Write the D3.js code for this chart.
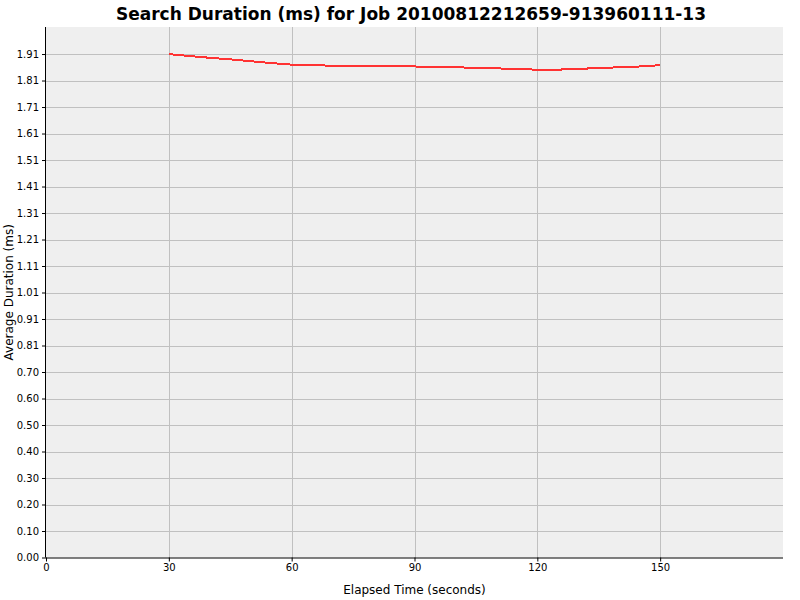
<!DOCTYPE html>
<html>
<head>
<meta charset="utf-8">
<script src="https://cdn.jsdelivr.net/npm/d3@7"></script>
<style>
  body { margin: 0; background: #fff; }
  text { font-family: 'DejaVu Sans', sans-serif; }
</style>
</head>
<body>
<svg id="chart" width="800" height="600"></svg>
<script>
// elapsed time (s) and average search duration (ms)
const elapsed = [30, 35, 40, 45, 50, 55, 60, 65, 70, 75, 80, 85, 90, 95, 100, 105, 110, 115, 120, 125, 130, 135, 140, 145, 150]
const duration = [1.912, 1.905, 1.898, 1.892, 1.885, 1.878, 1.872, 1.870, 1.868, 1.868, 1.867, 1.866, 1.865, 1.864, 1.862, 1.860, 1.858, 1.855, 1.853, 1.853, 1.856, 1.859, 1.862, 1.865, 1.870]
const xTicks = [0, 30, 60, 90, 120, 150]
const yStep = 0.10065
const yTicks = d3.range(20).map(i => i * yStep)

const title = 'Search Duration (ms) for Job 20100812212659-913960111-13'

const svg = d3.select('#chart')
const m = { left: 46, top: 27, right: 783, bottom: 557.5 }

const x = d3.scaleLinear()
  .domain([0, 180])
  .range([m.left, m.right])
const y = d3.scaleLinear()
  .domain([0, 2.015])
  .range([m.bottom, m.top])

//* * plot background
svg.append('rect')
  .attr('x', m.left)
  .attr('y', m.top)
  .attr('width', m.right - m.left)
  .attr('height', m.bottom - m.top)
  .attr('fill', '#efefef')

//* * grid lines
svg.append('g')
  .selectAll('line')
  .data(yTicks.slice(1))
  .enter().append('line')
  .attr('x1', m.left)
  .attr('x2', m.right)
  .attr('y1', d => Math.round(y(d)) + 0.5)
  .attr('y2', d => Math.round(y(d)) + 0.5)
  .attr('stroke', '#c0c0c0')

svg.append('g')
  .selectAll('line')
  .data(xTicks.slice(1))
  .enter().append('line')
  .attr('x1', d => Math.round(x(d)) + 0.5)
  .attr('x2', d => Math.round(x(d)) + 0.5)
  .attr('y1', m.top)
  .attr('y2', m.bottom)
  .attr('stroke', '#c0c0c0')

//* * axes
const xAxis = d3.axisBottom(x)
  .tickValues(xTicks)
  .tickSize(4)
  .tickPadding(2)
  .tickFormat(d3.format('d'))
svg.append('g')
  .attr('transform', `translate(0,${m.bottom})`)
  .call(xAxis)
  .call(g => g.select('.domain').attr('d', `M${m.left},0.5H${m.right}`).attr('stroke', '#000'))
  .call(g => g.selectAll('text').attr('font-size', 10).attr('fill', '#000').attr('font-family', 'DejaVu Sans'))

const yAxis = d3.axisLeft(y)
  .tickValues(yTicks)
  .tickSize(4)
  .tickPadding(3)
  .tickFormat(d3.format('.2f'))
svg.append('g')
  .attr('transform', `translate(${m.left},0)`)
  .call(yAxis)
  .call(g => g.select('.domain').attr('d', `M-0.5,${m.top}V${m.bottom}`).attr('stroke', '#000'))
  .call(g => g.selectAll('text').attr('font-size', 10).attr('fill', '#000').attr('font-family', 'DejaVu Sans'))

//* * series line
const line = d3.line()
  .x((d, i) => x(elapsed[i]))
  .y(d => y(d))
svg.append('path')
  .datum(duration)
  .attr('d', line)
  .attr('fill', 'none')
  .attr('stroke', '#ff3333')
  .attr('stroke-width', 2)
  .attr('shape-rendering', 'crispEdges')

//* * titles
svg.append('text')
  .attr('x', 411)
  .attr('y', 20)
  .attr('text-anchor', 'middle')
  .attr('font-size', 17)
  .attr('font-weight', 'bold')
  .text(title)

svg.append('text')
  .attr('x', (m.left + m.right) / 2)
  .attr('y', 594)
  .attr('text-anchor', 'middle')
  .attr('font-size', 12)
  .text('Elapsed Time (seconds)')

svg.append('text')
  .attr('transform', `translate(13,${(m.top + m.bottom) / 2}) rotate(-90)`)
  .attr('text-anchor', 'middle')
  .attr('font-size', 12)
  .text('Average Duration (ms)')
</script>
</body>
</html>
